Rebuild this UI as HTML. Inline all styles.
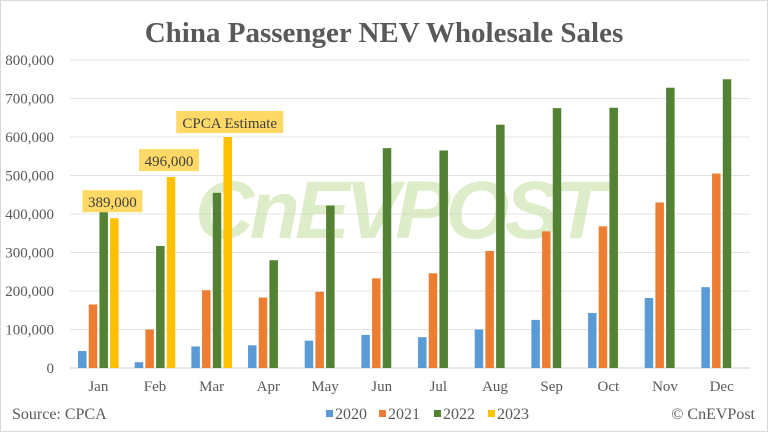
<!DOCTYPE html>
<html><head><meta charset="utf-8"><style>
body{margin:0;background:#fff;}
svg text{font-family:"Liberation Serif",serif;}
</style></head><body>
<svg width="768" height="432" xmlns="http://www.w3.org/2000/svg">
<rect x="0.5" y="0.5" width="767" height="431" fill="#fff" stroke="#d9d9d9"/>
<text x="384" y="42" text-anchor="middle" font-size="29" font-weight="bold" fill="#595959" font-family="Liberation Serif, serif">China Passenger NEV Wholesale Sales</text>
<g id="grid"></g>
<text x="400" y="238" text-anchor="middle" font-size="82" font-weight="bold" font-style="italic" fill="#b5d98a" opacity="0.45" style="font-family:'Liberation Sans',sans-serif" textLength="410">CnEVPOST</text>
<g id="bars"></g>
<g id="labels"></g>
<text x="12" y="419" font-size="16" fill="#595959" font-family="Liberation Serif, serif">Source: CPCA</text>
<text x="755" y="419" text-anchor="end" font-size="16" fill="#595959" font-family="Liberation Serif, serif">© CnEVPost</text>
<g id="legend"></g>
</svg>
<script>
const months=["Jan","Feb","Mar","Apr","May","Jun","Jul","Aug","Sep","Oct","Nov","Dec"];
const s2020=[44000,15000,56000,59000,71000,86000,80000,100000,125000,143000,182000,210000];
const s2021=[165000,100000,202000,183000,198000,233000,246000,304000,355000,368000,430000,505000];
const s2022=[405000,317000,455000,280000,422000,571000,565000,632000,675000,676000,728000,750000];
const s2023=[389000,496000,600000];
const s2023Labels=["389,000","496,000","CPCA Estimate"];
const yTicks=[0,100000,200000,300000,400000,500000,600000,700000,800000];
const seriesNames=["2020","2021","2022","2023"];
const NS="http://www.w3.org/2000/svg";
const SERIF="Liberation Serif, serif";
const colors=["#5b9bd5","#ed7d31","#548235","#ffc000"];
const x0=70,x1=750,y0=368,yTop=60,yMax=800000;
const band=(x1-x0)/months.length;
const y=v=>y0-(v/yMax)*(y0-yTop);
const xc=i=>x0+band*(i+0.5);
function mk(tag,attrs,parent){const e=document.createElementNS(NS,tag);for(const k in attrs)e.setAttribute(k,attrs[k]);parent.appendChild(e);return e;}
const grid=document.getElementById('grid');
yTicks.forEach(t=>{
  const l=mk('line',{x1:x0,x2:x1,y1:y(t),y2:y(t),stroke:t===0?'#d0d0d0':'#e3e3e3','stroke-width':1},grid);
  
  
  const tx=mk('text',{x:54,y:y(t)+5,'text-anchor':'end','font-size':15,fill:'#595959','font-family':SERIF},grid);
  tx.textContent=t.toLocaleString('en-US');
  
  
});
months.forEach((m,i)=>{
  const tx=mk('text',{x:xc(i),y:391,'text-anchor':'middle','font-size':15,fill:'#595959','font-family':SERIF},grid);
  tx.textContent=m;
  
  
});
const bars=document.getElementById('bars');
const series=[s2020,s2021,s2022,s2023];
const bw=8.5,step=10.7;
series.forEach((s,si)=>{
  s.forEach((v,i)=>{
    const bx=xc(i)-2*step+si*step+(step-bw)/2;
    const r=mk('rect',{x:bx,y:y(v),width:bw,height:y0-y(v),fill:colors[si]},bars);
    
    
  });
});
const labels=document.getElementById('labels');
s2023.forEach((v,i)=>{
  const bx=xc(i)-2*step+3*step+step/2;
  const txt=s2023Labels[i];
  const w=i===2?107:60;
  const cx=i===2?bx+2:bx-2;
  const ty=y(v)-(i===2?8:10);
  const r=mk('rect',{x:cx-w/2,y:ty-18,width:w,height:22,fill:'#ffd966'},labels);
  
  
  const t=mk('text',{x:cx,y:ty-1,'text-anchor':'middle','font-size':15,fill:'#404040','font-family':SERIF},labels);
  t.textContent=txt;
  
  
});
const legend=document.getElementById('legend');
const lx=[326,379,434,488];
seriesNames.forEach((n,i)=>{
  const r=mk('rect',{x:lx[i],y:410,width:7,height:7,fill:colors[i]},legend);
  
  
  const t=mk('text',{x:lx[i]+9,y:419,'font-size':16,fill:'#595959','font-family':SERIF},legend);
  t.textContent=n;
  
  
});
</script>
</body></html>
